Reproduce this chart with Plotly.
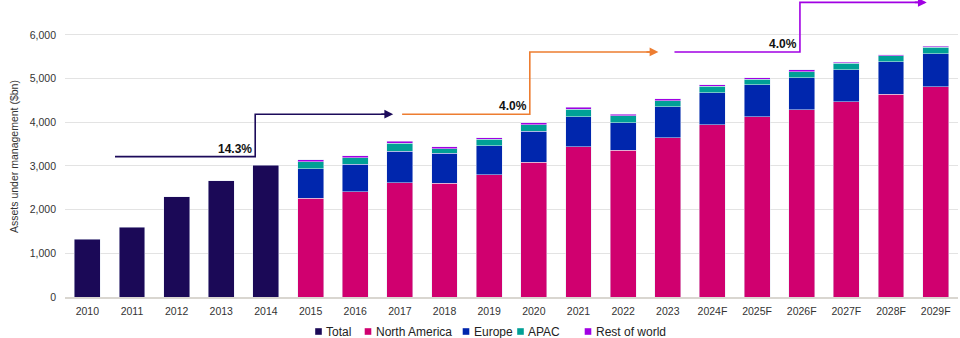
import plotly.graph_objects as go

# ---- data ($bn) ----
years = ["2010", "2011", "2012", "2013", "2014", "2015", "2016", "2017", "2018", "2019",
         "2020", "2021", "2022", "2023", "2024F", "2025F", "2026F", "2027F", "2028F", "2029F"]
total = [1320, 1600, 2300, 2660, 3020]  # 2010-2014, no regional split
north_america = [2260, 2410, 2620, 2600, 2800, 3085, 3435, 3365, 3650, 3945, 4130, 4290, 4465, 4640, 4815]
europe = [680, 635, 720, 690, 665, 710, 690, 625, 710, 735, 725, 725, 740, 750, 755]
apac = [160, 145, 175, 105, 145, 145, 175, 155, 135, 145, 130, 145, 145, 135, 145]
rest_of_world = [40, 40, 55, 45, 40, 50, 40, 40, 40, 30, 30, 40, 30, 25, 30]

# CAGR callouts: (label, start x, step x, end x, lower y, upper y, colour)
cagr_arrows = [
    ("14.3%", 0.62, 3.76, 6.85, 3215, 4185, "#1c0b5a"),
    ("4.0%", 7.05, 9.91, 12.79, 4185, 5610, "#ed7d31"),
    ("4.0%", 13.15, 15.96, 18.8, 5610, 6745, "#a100e3"),
]

C_TOTAL = "#1b0957"
C_NA = "#d0006f"
C_EU = "#0026ad"
C_APAC = "#00a096"
C_ROW = "#a100e3"

FONT = "Liberation Sans, Arial, sans-serif"
TXT = "#333333"

n_hist = len(total)
idx = list(range(len(years)))
idx_hist = idx[:n_hist]
idx_reg = idx[n_hist:]

fig = go.Figure()
BAR_W = 0.58
fig.add_bar(x=idx_hist, y=total, name="Total", marker_color=C_TOTAL, width=BAR_W)
fig.add_bar(x=idx_reg, y=north_america, name="North America", marker_color=C_NA, width=BAR_W)
fig.add_bar(x=idx_reg, y=europe, name="Europe", marker_color=C_EU, width=BAR_W)
fig.add_bar(x=idx_reg, y=apac, name="APAC", marker_color=C_APAC, width=BAR_W)
fig.add_bar(x=idx_reg, y=rest_of_world, name="Rest of world", marker_color=C_ROW, width=BAR_W)

# stepped CAGR arrows
for label, x0, xs, x1, y0, y1, col in cagr_arrows:
    fig.add_trace(go.Scatter(
        x=[x0, xs, xs, x1 - 0.1], y=[y0, y0, y1, y1], mode="lines",
        line=dict(color=col, width=1.6), hoverinfo="skip", showlegend=False,
        cliponaxis=False))
    fig.add_annotation(x=x1, y=y1, ax=x1 - 0.3, ay=y1, xref="x", yref="y",
                       axref="x", ayref="y", showarrow=True, arrowhead=2,
                       arrowsize=1.1, arrowwidth=1.6, arrowcolor=col, text="")
    fig.add_annotation(x=xs, y=y0, xref="x", yref="y", text=f"<b>{label}</b>",
                       showarrow=False, xanchor="right", yanchor="bottom",
                       xshift=-1, yshift=-1,
                       font=dict(family=FONT, size=12, color="#111111"))

# plot-area geometry in pixels
W, H = 960, 338
ML, MR, MT, MB = 65, 2, 0, 41
PW = W - ML - MR
PH = H - MT - MB


def px_x(px):
    return (px - ML) / PW


def px_y(py):
    return (H - MB - py) / PH


# y-axis title
fig.add_annotation(xref="paper", yref="paper", x=px_x(14), y=px_y(157),
                   text="Assets under management ($bn)", textangle=-90,
                   showarrow=False, xanchor="center", yanchor="middle",
                   font=dict(family=FONT, size=10.5, color=TXT))

# legend row
legend_items = [("Total", C_TOTAL, 318.5), ("North America", C_NA, 368),
                ("Europe", C_EU, 466), ("APAC", C_APAC, 520.5),
                ("Rest of world", C_ROW, 588)]
LEG_Y = 331.5
for name, col, cx in legend_items:
    fig.add_shape(type="rect", xref="paper", yref="paper",
                  x0=px_x(cx - 3.3), x1=px_x(cx + 3.3),
                  y0=px_y(LEG_Y + 3.3), y1=px_y(LEG_Y - 3.3),
                  fillcolor=col, line_width=0)
    fig.add_annotation(xref="paper", yref="paper", x=px_x(cx + 5.5), y=px_y(LEG_Y),
                       text=name, showarrow=False, xanchor="left", yanchor="middle",
                       font=dict(family=FONT, size=12, color="#222222"))

fig.update_layout(
    width=W, height=H,
    margin=dict(l=ML, r=MR, t=MT, b=MB),
    barmode="stack",
    bargap=0.42,
    showlegend=False,
    plot_bgcolor="white", paper_bgcolor="white",
    font=dict(family=FONT, size=10.5, color=TXT),
    xaxis=dict(
        range=[-0.5, len(years) - 0.5],
        tickmode="array", tickvals=idx, ticktext=years,
        showgrid=False, zeroline=False,
        showline=True, linecolor="#d9d6d0", linewidth=2,
        ticks="", ticklabelstandoff=3,
        tickfont=dict(family=FONT, size=10.5, color=TXT),
    ),
    yaxis=dict(
        range=[0, 6800],
        tickmode="array", tickvals=[0, 1000, 2000, 3000, 4000, 5000, 6000],
        tickformat=",",
        showgrid=True, gridcolor="#e3e3e3", gridwidth=1,
        zeroline=False, showline=False, ticks="", ticklabelstandoff=8,
        tickfont=dict(family=FONT, size=10.5, color=TXT),
    ),
)

fig.write_html("out.html")
